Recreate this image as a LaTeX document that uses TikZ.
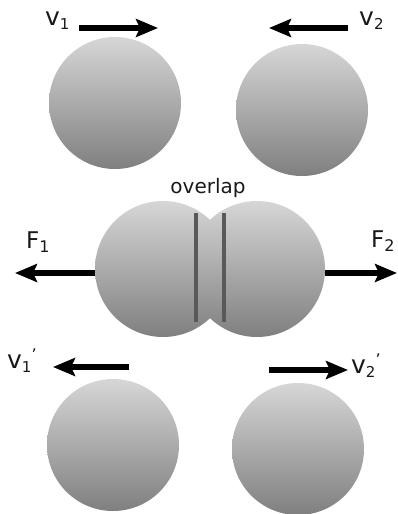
\documentclass[tikz,border=0pt]{standalone}
\usepackage{fontspec}
\setmainfont{DejaVu Sans}
\usetikzlibrary{arrows.meta,positioning}

\newcommand{\lowsub}[2][15]{\raisebox{-4pt}{\fontsize{#1}{#1}\selectfont #2}}
\newcommand{\upmark}{\raisebox{8pt}{\fontsize{16}{16}\selectfont ’}}

\begin{document}
\begin{tikzpicture}[
    x=1pt,
    y=-1pt,
    ball/.style={
        circle,
        inner sep=0pt,
        minimum size=132pt,
        top color=black!16,
        bottom color=black!50,
        draw=none
    },
    bigball/.style={
        ball,
        minimum size=136pt
    },
    arr/.style={-{Stealth[length=22pt,width=18pt,inset=4pt]}, line width=5.5pt},
    seam/.style={draw=black!65, line width=3.5pt},
    lbl/.style={
        anchor=base west,
        inner sep=0pt,
        text=black!90,
        font=\fontsize{25}{25}\selectfont
    },
    flbl/.style={
        lbl,
        font=\fontsize{23}{23}\selectfont
    }
]
\useasboundingbox (0,0) rectangle (398,514);

% before the collision
\node[ball] (a1) at (115,103) {};
\node[ball] (a2) at (302,110) {};
\coordinate (a1tail) at (79,28);
\coordinate (a1tip) at (158,28);
\coordinate (a2tail) at (348,28);
\coordinate (a2tip) at (269,28);
\draw[arr] (a1tail) -- (a1tip);
\draw[arr] (a2tail) -- (a2tip);
\node[lbl] (v1) at (45,25) {v\lowsub{1}};
\node[lbl] (v2) at (359,25) {v\lowsub{2}};

% overlapping pair
\node[bigball] (m1) at (163,269) {};
\node[bigball] (m2) at (257,269) {};
\draw[seam] (196,213) -- (196,322);
\draw[seam] (224,213) -- (224,322);
\node[anchor=base, inner sep=0pt, text=black!90, font=\fontsize{20}{20}\selectfont]
    (ovl) at (208,193) {overlap};
\coordinate (f1tip) at (15,273);
\coordinate (f2tip) at (397,273);
\draw[arr] (m1.west |- f1tip) -- (f1tip);
\draw[arr] (m2.east |- f2tip) -- (f2tip);
\node[flbl] (f1) at (26,248) {F\lowsub[16]{1}};
\node[flbl] (f2) at (371,247) {F\lowsub[16]{2}};

% after the collision
\node[ball] (b1) at (113,445) {};
\node[ball] (b2) at (298,449) {};
\coordinate (b1tail) at (129,367);
\coordinate (b1tip) at (53,367);
\coordinate (b2tail) at (269,370);
\coordinate (b2tip) at (348,370);
\draw[arr] (b1tail) -- (b1tip);
\draw[arr] (b2tail) -- (b2tip);
\node[lbl] (w1) at (7,368) {v\lowsub{1}\upmark};
\node[lbl] (w2) at (351,373) {v\lowsub{2}\upmark};

\end{tikzpicture}
\end{document}
